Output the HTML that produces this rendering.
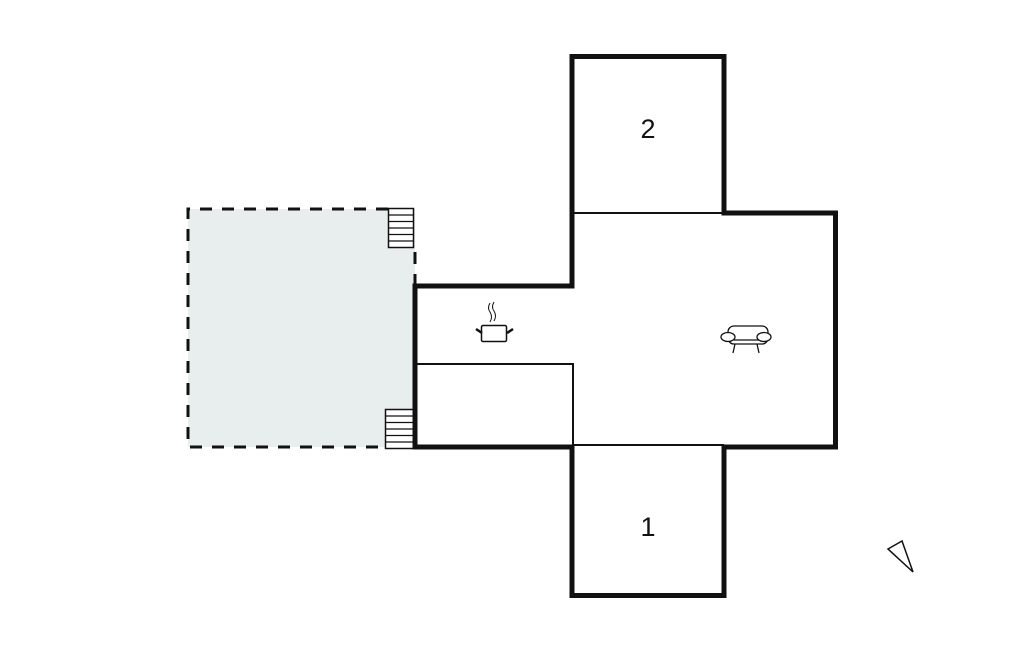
<!DOCTYPE html>
<html><head><meta charset="utf-8"><style>html,body{margin:0;padding:0;background:#fff}svg{display:block}</style></head>
<body>
<svg width="1024" height="652" viewBox="0 0 1024 652" xmlns="http://www.w3.org/2000/svg">
<rect x="188" y="209" width="227" height="238" fill="#e8eeed"/>
<path d="M415 286 V248" fill="none" stroke="#111" stroke-width="3" stroke-dasharray="12 10"/>
<path d="M388 209 H188 V447 H385" fill="none" stroke="#111" stroke-width="3" stroke-dasharray="12 10"/>
<!-- stairs -->
<g fill="#fff" stroke="#111" stroke-width="1.5">
<rect x="388.5" y="208.5" width="25" height="39"/>
<rect x="385.5" y="409.5" width="28" height="39"/>
</g>
<g stroke="#111" stroke-width="1.2">
<line x1="388" y1="215" x2="414" y2="215"/><line x1="388" y1="221.5" x2="414" y2="221.5"/><line x1="388" y1="228" x2="414" y2="228"/><line x1="388" y1="234.5" x2="414" y2="234.5"/><line x1="388" y1="241" x2="414" y2="241"/>
<line x1="385" y1="416" x2="413" y2="416"/><line x1="385" y1="422.5" x2="413" y2="422.5"/><line x1="385" y1="429" x2="413" y2="429"/><line x1="385" y1="435.5" x2="413" y2="435.5"/><line x1="385" y1="442" x2="413" y2="442"/>
</g>
<!-- building -->
<path d="M572 56.5 H724 V213 H835.5 V447 H724 V595.5 H572 V447 H415 V286 H572 Z" fill="#fff" stroke="#111" stroke-width="5" stroke-linejoin="miter"/>
<g stroke="#111" stroke-width="2" fill="none">
<line x1="572" y1="213" x2="724" y2="213"/>
<line x1="415" y1="364" x2="574" y2="364"/>
<line x1="573" y1="364" x2="573" y2="447"/>
<line x1="572" y1="445" x2="724" y2="445"/>
</g>
<text x="648" y="138" font-family="Liberation Sans, sans-serif" font-size="27" text-anchor="middle" fill="#111">2</text>
<text x="648" y="536" font-family="Liberation Sans, sans-serif" font-size="27" text-anchor="middle" fill="#111">1</text>
<!-- pot -->
<g stroke="#111" fill="none">
<rect x="481.5" y="325.5" width="25" height="16" rx="1.5" stroke-width="1.5"/>
<line x1="476" y1="329" x2="482" y2="333" stroke-width="2.5"/>
<line x1="513" y1="329" x2="507" y2="333" stroke-width="2.5"/>
<path d="M490 303 q-3 5 0 9 q3 5 0 10" stroke-width="1"/>
<path d="M494 302 q-3 5 0 9 q3 5 0 10" stroke-width="1"/>
</g>
<!-- sofa -->
<g stroke="#111" fill="#fff" stroke-width="1.3">
<rect x="728" y="326" width="40" height="18" rx="6"/>
<ellipse cx="728" cy="337" rx="7" ry="4.5"/>
<ellipse cx="764" cy="337" rx="7" ry="4.5"/>
<line x1="734" y1="340" x2="759" y2="340"/>
<line x1="735" y1="344" x2="733" y2="353"/>
<line x1="757" y1="344" x2="759" y2="353"/>
</g>
<!-- north arrow -->
<polygon points="888,549 902,541 913,572" fill="none" stroke="#111" stroke-width="1.5"/>
</svg>
</body></html>
